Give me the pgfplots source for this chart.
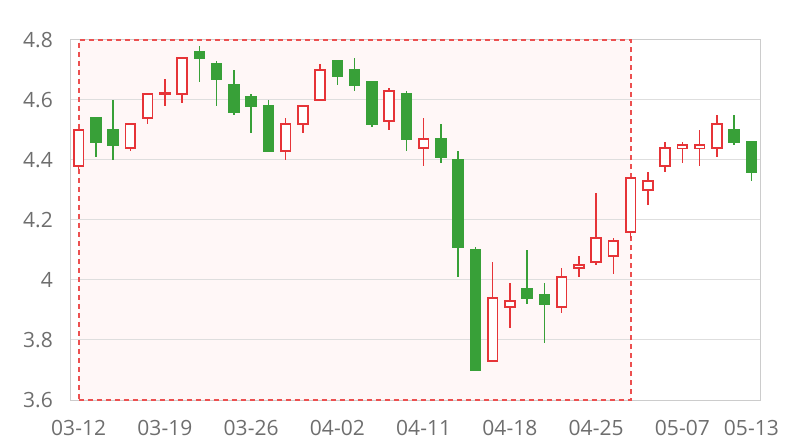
\documentclass[border=0pt]{standalone}
\usepackage{fontspec}
\setmainfont{Open Sans}
\usepackage{pgfplots}
\pgfplotsset{compat=1.18}
\usepackage{pgfplotstable}

\definecolor{upred}{RGB}{230,52,56}
\definecolor{downgreen}{RGB}{56,160,56}
\definecolor{areapink}{RGB}{255,247,247}
\definecolor{areaborder}{RGB}{236,80,80}
\definecolor{gridgray}{RGB}{222,222,222}
\definecolor{axisgray}{RGB}{204,204,204}
\definecolor{labelgray}{RGB}{110,110,110}

% rising days: index open close high low
\pgfplotstableread{
x o c h l
0 4.38 4.50 4.50 4.37
3 4.44 4.52 4.52 4.43
4 4.54 4.62 4.62 4.52
5 4.62 4.623 4.67 4.58
6 4.62 4.74 4.74 4.59
12 4.43 4.52 4.54 4.40
13 4.52 4.58 4.58 4.49
14 4.60 4.70 4.72 4.60
18 4.53 4.63 4.64 4.50
20 4.44 4.47 4.54 4.38
24 3.73 3.94 4.06 3.73
25 3.91 3.93 3.99 3.84
28 3.91 4.01 4.04 3.89
29 4.04 4.05 4.08 4.01
30 4.06 4.14 4.29 4.05
31 4.08 4.13 4.14 4.02
32 4.16 4.34 4.34 4.14
33 4.30 4.33 4.36 4.25
34 4.38 4.44 4.46 4.36
35 4.44 4.45 4.46 4.39
36 4.44 4.45 4.50 4.38
37 4.44 4.52 4.55 4.41
}\uptable

% falling days: index open close high low
\pgfplotstableread{
x o c h l
1 4.54 4.46 4.54 4.41
2 4.50 4.45 4.60 4.40
7 4.76 4.74 4.78 4.66
8 4.72 4.67 4.73 4.58
9 4.65 4.56 4.70 4.55
10 4.61 4.58 4.62 4.49
11 4.58 4.43 4.60 4.43
15 4.73 4.68 4.73 4.65
16 4.70 4.65 4.74 4.63
17 4.66 4.52 4.66 4.51
19 4.62 4.47 4.63 4.43
21 4.47 4.41 4.52 4.39
22 4.40 4.11 4.43 4.01
23 4.10 3.70 4.11 3.70
26 3.97 3.94 4.10 3.92
27 3.95 3.92 3.99 3.79
38 4.50 4.46 4.55 4.45
39 4.46 4.36 4.46 4.33
}\downtable

\begin{document}
\begin{tikzpicture}
\begin{axis}[
  set layers,
  at={(0,0)}, anchor=south west,
  scale only axis,
  width=690bp, height=360bp,
  xmin=-0.5, xmax=39.5,
  ymin=3.6, ymax=4.8,
  clip=false,
  axis line style={draw=axisgray, line width=1bp},
  ymajorgrids,
  grid style={draw=gridgray, line width=1bp},
  major tick length=0pt,
  xtick={0,5,10,15,20,25,30,35,39},
  xticklabels={03-12,03-19,03-26,04-02,04-11,04-18,04-25,05-07,05-13},
  ytick={3.6,3.8,4.0,4.2,4.4,4.6,4.8},
  yticklabels={3.6,3.8,4,4.2,4.4,4.6,4.8},
  /pgf/number format/assume math mode=true,
  tick label style={font=\fontsize{21bp}{25bp}\selectfont, text=labelgray, inner sep=0pt},
  yticklabel style={anchor=east},
  yticklabel shift=17bp,
  xticklabel style={anchor=north},
  xticklabel shift=20bp,
]
% mark area fill
\addplot[on layer=axis background, fill=areapink, draw=none, forget plot]
  coordinates {(0,3.6) (32,3.6) (32,4.8) (0,4.8)} -- cycle;
% mark area border
\addplot[draw=areaborder, line width=2bp, dash pattern=on 5bp off 4bp, forget plot]
  coordinates {(0,3.6) (32,3.6) (32,4.8) (0,4.8)} -- cycle;

% wicks
\addplot[draw=none, mark=none, forget plot,
  error bars/.cd, y dir=both, y explicit, error mark=none,
  error bar style={draw=upred, line width=1.7bp}]
  table[x=x, y expr={(\thisrow{h}+\thisrow{l})/2}, y error expr={(\thisrow{h}-\thisrow{l})/2}] {\uptable};
\addplot[draw=none, mark=none, forget plot,
  error bars/.cd, y dir=both, y explicit, error mark=none,
  error bar style={draw=downgreen, line width=1.7bp}]
  table[x=x, y expr={(\thisrow{h}+\thisrow{l})/2}, y error expr={(\thisrow{h}-\thisrow{l})/2}] {\downtable};

% rising bodies: red outline, white inside
\addplot[draw=none, mark=none, forget plot,
  error bars/.cd, y dir=both, y explicit, error mark=none,
  error bar style={draw=upred, line width=11.5bp}]
  table[x=x, y expr={(\thisrow{o}+\thisrow{c})/2}, y error expr={(\thisrow{c}-\thisrow{o})/2+0.003}] {\uptable};
\addplot[draw=none, mark=none, forget plot,
  error bars/.cd, y dir=both, y explicit, error mark=none,
  error bar style={draw=white, line width=8bp}]
  table[x=x, y expr={(\thisrow{o}+\thisrow{c})/2}, y error expr={max((\thisrow{c}-\thisrow{o})/2-0.003,0)}] {\uptable};

% falling bodies: solid green
\addplot[draw=none, mark=none, forget plot,
  error bars/.cd, y dir=both, y explicit, error mark=none,
  error bar style={draw=downgreen, line width=11.5bp}]
  table[x=x, y expr={(\thisrow{o}+\thisrow{c})/2}, y error expr={(\thisrow{o}-\thisrow{c})/2+0.003}] {\downtable};
\end{axis}
\pgfresetboundingbox
\useasboundingbox (-70bp,-40bp) rectangle (730bp,400bp);
\end{tikzpicture}
\end{document}
